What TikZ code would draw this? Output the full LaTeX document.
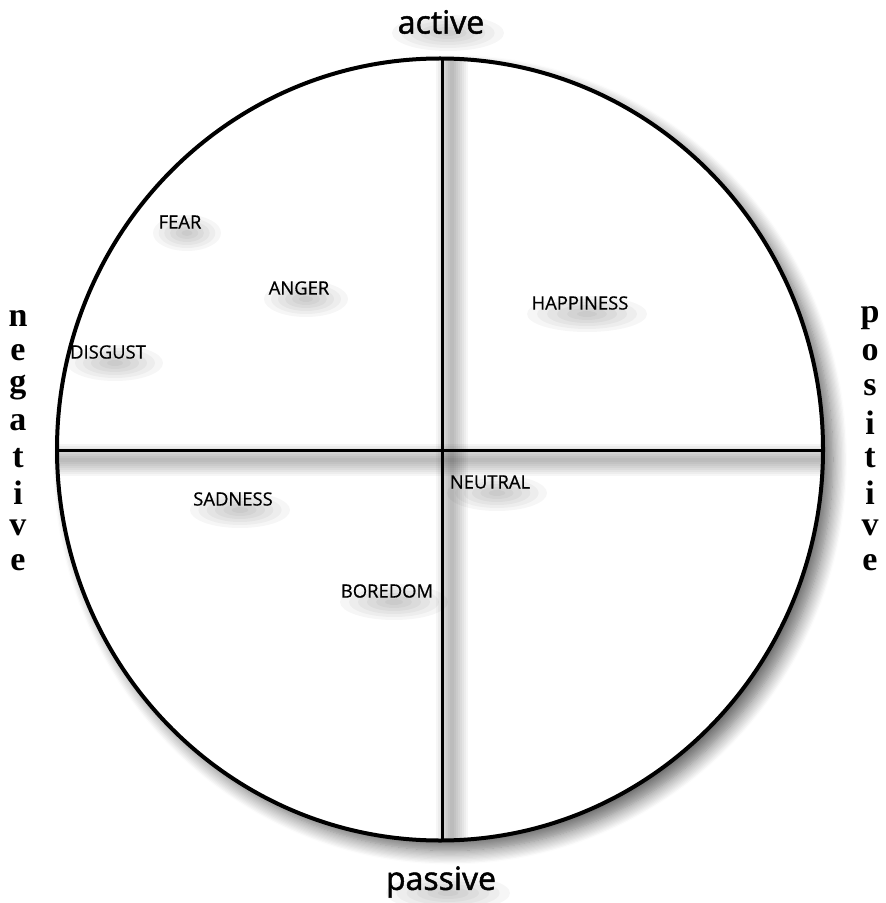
\documentclass[tikz,border=0pt]{standalone}
\usepackage{fontspec}
\setmainfont{Open Sans}
\newfontfamily\headfont[FakeBold=1.5]{Open Sans}
\newfontfamily\emofont[FakeBold=0.6]{Open Sans}
\newfontfamily\sidefont{Liberation Serif}
\usetikzlibrary{shadows.blur}

\tikzset{
  emo/.style={font=\emofont\fontsize{9.2}{11}\selectfont, inner sep=1pt},
  axislbl/.style={font=\headfont\fontsize{16}{19}\selectfont, inner sep=1pt},
  sidelbl/.style={font=\sidefont\bfseries\fontsize{17}{20}\selectfont, inner sep=0pt},
  axis/.style={line width=1.5pt, black},
  smudge/.style={fill=black, fill opacity=0.035},
}

\begin{document}
\begin{tikzpicture}[x=0.5pt, y=-0.5pt]
\useasboundingbox (0,0) rectangle (886,903);

% Circle with its shadow
\coordinate (c) at (440,449.5);
\draw[line width=2pt, fill=white,
  blur shadow={shadow xshift=5pt, shadow yshift=-5pt, shadow opacity=60,
    shadow blur radius=7pt, shadow blur steps=12}]
  (c) ellipse [x radius=383, y radius=391];

% Ends of the axes
\coordinate (top) at (442,58);
\coordinate (bot) at (442,841);
\coordinate (lft) at (57,450);
\coordinate (rgt) at (823,450);

% Soft shadows of the axes
\begin{scope}
\clip (c) ellipse [x radius=382, y radius=390];
\foreach \w in {2,4,...,16} {
  \draw[line width=\w pt, draw opacity=0.035] ([xshift=5pt]top) -- ([xshift=5pt]bot);
  \draw[line width=\w pt, draw opacity=0.035] ([yshift=-5pt]lft) -- ([yshift=-5pt]rgt);
}
\end{scope}

% Axes
\draw[axis] (top) -- (bot);
\draw[axis] (lft) -- (rgt);

% Axis labels
\node[axislbl] (active) at (441,22) {active};
\node[axislbl] (passive) at (441,882) {passive};

\foreach \l [count=\i from 0] in {n,e,g,a,t,i,v,e} {
  \node[sidelbl] (neg\i) at (18,318+35*\i) {\l};
}
\foreach \l [count=\i from 0] in {p,o,s,i,t,i,v,e} {
  \node[sidelbl] (pos\i) at (870,318+35*\i) {\l};
}

% Emotions
\node[emo] (fear) at (180,222) {FEAR};
\node[emo] (anger) at (299,288) {ANGER};
\node[emo] (disgust) at (108,352) {DISGUST};
\node[emo] (happiness) at (580,303) {HAPPINESS};
\node[emo] (neutral) at (490,482) {NEUTRAL};
\node[emo] (sadness) at (233,499) {SADNESS};
\node[emo] (boredom) at (387,591) {BOREDOM};

% Soft smudges under the words
\foreach \n/\rx in {fear/34, anger/42, disgust/48, happiness/60, neutral/50,
                    sadness/50, boredom/54, active/56, passive/62} {
  \foreach \k in {1,...,6} {
    \fill[smudge] ([shift={(7,11)}]\n.center) ellipse [x radius=\rx*\k/6, y radius=3*\k];
  }
}
\end{tikzpicture}
\end{document}
